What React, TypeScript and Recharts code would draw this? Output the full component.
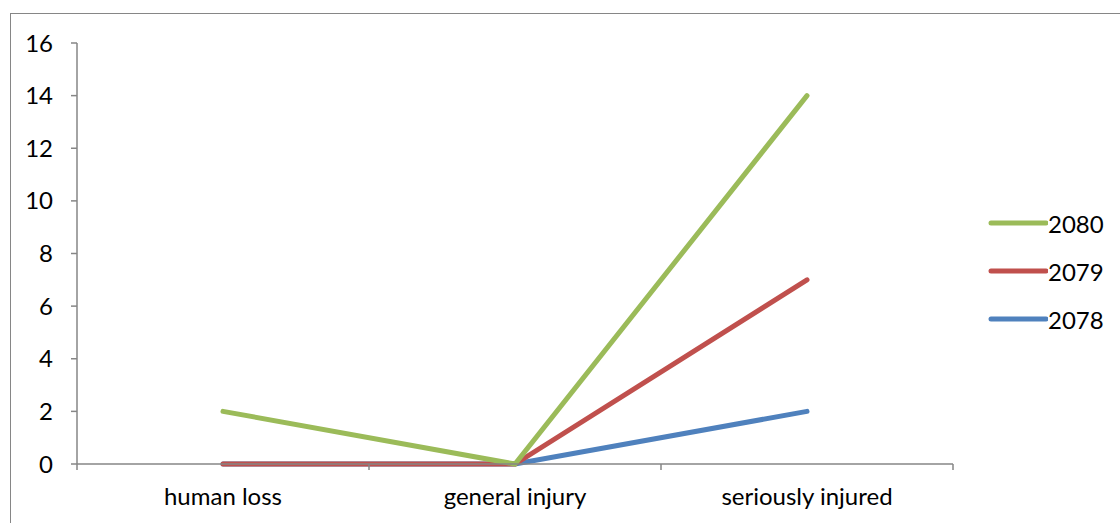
import { Line, LineChart, XAxis, YAxis } from 'recharts'

// categories along the x axis
const categories = ['human loss', 'general injury', 'seriously injured']

// one array per year
const series2078 = [0, 0, 2]
const series2079 = [0, 0, 7]
const series2080 = [2, 0, 14]

// y axis ticks
const yTicks = [0, 2, 4, 6, 8, 10, 12, 14, 16]

const seriesList = [
	{ key: 'y2078', name: '2078', color: '#4F81BD' },
	{ key: 'y2079', name: '2079', color: '#C0504D' },
	{ key: 'y2080', name: '2080', color: '#9BBB59' },
]

// each category sits in the middle of its slot, slot edges get the tick marks
const data = categories.map((name, i) => ({
	pos: i + 0.5,
	name,
	y2078: series2078[i],
	y2079: series2079[i],
	y2080: series2080[i],
}))

const xTicks: number[] = []
for (let i = 0; i <= categories.length * 2; i++) xTicks.push(i / 2)

const font = 'Lato, "Noto Sans", sans-serif'
const axisGray = '#868686'

const CategoryTick = ({ x, y, payload }: any) => {
	const v = payload.value
	if (Number.isInteger(v)) {
		return <line x1={x} x2={x} y1={y} y2={y + 6} stroke={axisGray} strokeWidth={1.5} />
	}
	return (
		<text x={x} y={y + 41} textAnchor='middle' fill='#000' fontSize={24} fontFamily={font}>
			{categories[Math.floor(v)]}
		</text>
	)
}

// legend drawn beside the plot, newest year first
const LegendBox = () => (
	<div style={{ position: 'absolute', left: 988, top: 199, fontFamily: font, fontSize: 24, color: '#000' }}>
		{[...seriesList].reverse().map((s) => (
			<div key={s.key} style={{ display: 'flex', alignItems: 'center', height: 48 }}>
				<svg width={60} height={10}>
					<line x1={3} x2={58} y1={5} y2={5} stroke={s.color} strokeWidth={5} strokeLinecap='round' />
				</svg>
				<span>{s.name}</span>
			</div>
		))}
	</div>
)

export default function App() {
	return (
		<div style={{ position: 'absolute', left: 0, top: 0, width: 1120, height: 523, background: '#fff', overflow: 'hidden', fontFamily: font }}>
			<div
				style={{
					position: 'absolute',
					left: 10,
					top: 13,
					width: 1200,
					height: 600,
					borderLeft: `1.5px solid ${axisGray}`,
					borderTop: `1.5px solid ${axisGray}`,
				}}
			/>
			<LineChart width={1120} height={523} data={data} margin={{ top: 43, right: 167, left: 17, bottom: 19 }} style={{ position: 'absolute', left: 0, top: 0 }}>
				<XAxis
					dataKey='pos'
					type='number'
					domain={[0, categories.length]}
					ticks={xTicks}
					interval={0}
					tickLine={false}
					tickSize={0}
					tickMargin={0}
					height={40}
					axisLine={{ stroke: axisGray, strokeWidth: 1.5 }}
					tick={<CategoryTick />}
				/>
				<YAxis
					type='number'
					domain={[0, 16]}
					ticks={yTicks}
					interval={0}
					width={60}
					tickSize={6}
					tickMargin={18}
					axisLine={{ stroke: axisGray, strokeWidth: 1.5 }}
					tickLine={{ stroke: axisGray, strokeWidth: 1.5 }}
					tick={{ fill: '#000', fontSize: 24, fontFamily: font }}
				/>
				{seriesList.map((s) => (
					<Line
						key={s.key}
						type='linear'
						dataKey={s.key}
						name={s.name}
						stroke={s.color}
						strokeWidth={5}
						strokeLinecap='round'
						dot={false}
						activeDot={false}
						isAnimationActive={false}
					/>
				))}
			</LineChart>
			<LegendBox />
		</div>
	)
}
